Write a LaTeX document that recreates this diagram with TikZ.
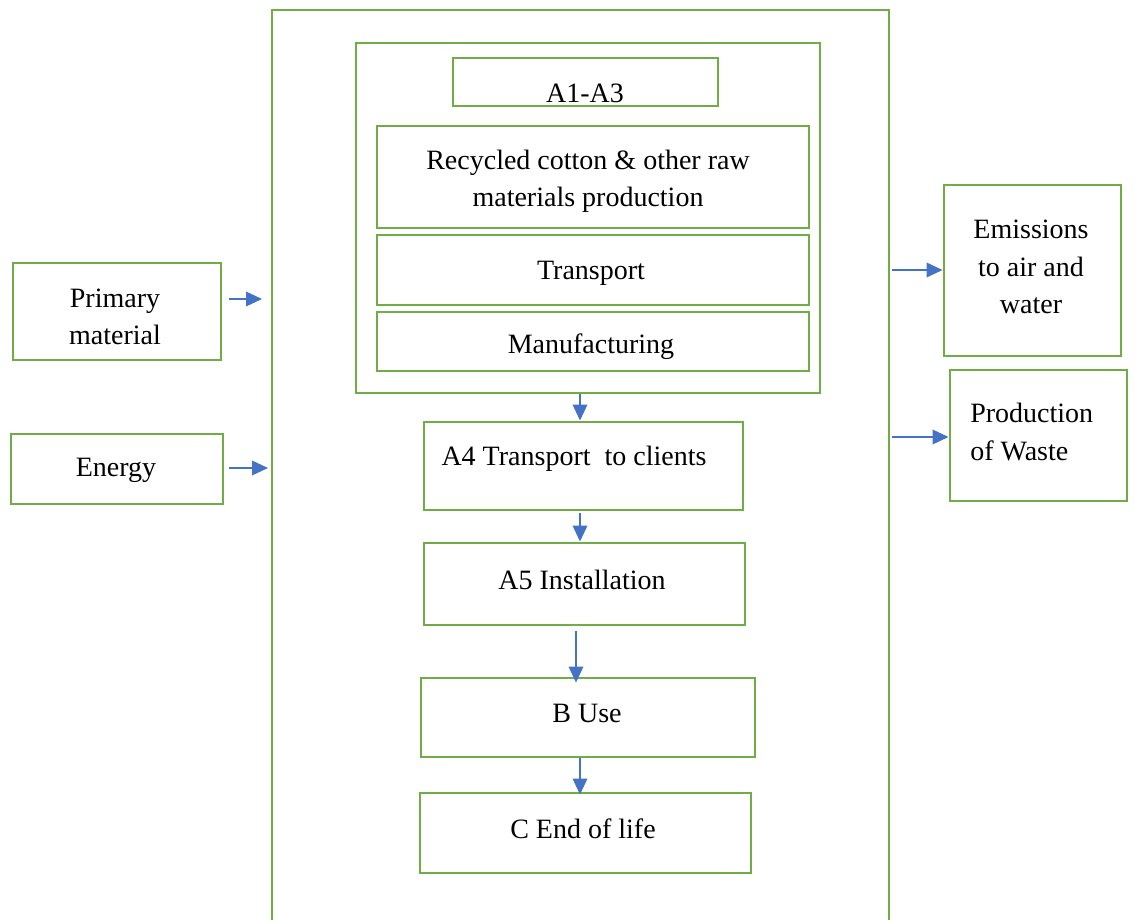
\documentclass[tikz,border=0pt]{standalone}
\usepackage{fontspec}
\setmainfont{Liberation Serif}
\usetikzlibrary{arrows.meta}
\definecolor{boxgreen}{HTML}{70AD47}
\definecolor{arrblue}{HTML}{4472C4}
\begin{document}
\begin{tikzpicture}[x=0.75pt,y=-0.75pt,
  box/.style={draw=boxgreen, line width=2.2pt, inner sep=0pt},
  txt/.style={font=\fontsize{21}{28}\selectfont, inner sep=0pt, align=center},
  flow/.style={draw=arrblue, line width=1.1pt, -{Triangle[length=12pt,width=11pt]}}]
\useasboundingbox[fill=white] (0,0) rectangle (1135,920);
% outer frame (open at the bottom)
\coordinate (otl) at (272,10);
\coordinate (otr) at (889,10);
\coordinate (obl) at (272,925);
\coordinate (obr) at (889,925);
\draw[draw=boxgreen, line width=2.2pt] (obl) -- (otl) -- (otr) -- (obr);
% A1-A3 group
\node[box, minimum width=464pt*0.75, minimum height=350pt*0.75] (grp) at (588,218) {};
\node[box, minimum width=265pt*0.75, minimum height=48pt*0.75] (a13) at (585.5,82) {};
\node[txt] (a13t) at (585,93) {A1-A3};
\node[box, minimum width=432pt*0.75, minimum height=102pt*0.75] (rec) at (593,177) {};
\node[txt] (rect) at (588,181) {Recycled cotton \& other raw\\materials production};
\node[box, minimum width=432pt*0.75, minimum height=70pt*0.75] (tra) at (593,270) {};
\node[txt] (trat) at (591,273) {Transport};
\node[box, minimum width=432pt*0.75, minimum height=59pt*0.75] (man) at (593,341.5) {};
\node[txt] (mant) at (591,347) {Manufacturing};
% lower stages
\node[box, minimum width=319pt*0.75, minimum height=88pt*0.75] (a4) at (583.5,466) {};
\node[txt] (a4t) at (574,459) {A4 Transport\ \ to clients};
\node[box, minimum width=321pt*0.75, minimum height=82pt*0.75] (a5) at (584.5,584) {};
\node[txt] (a5t) at (582,580) {A5 Installation};
\node[box, minimum width=334pt*0.75, minimum height=79pt*0.75] (bu) at (588,717.5) {};
\node[txt] (but) at (587,713) {B Use};
\node[box, minimum width=331pt*0.75, minimum height=80pt*0.75] (ce) at (585.5,833) {};
\node[txt] (cet) at (583,829) {C End of life};
% inputs
\node[box, minimum width=208pt*0.75, minimum height=97pt*0.75] (pm) at (117,311.5) {};
\node[txt] (pmt) at (115,317) {Primary\\material};
\node[box, minimum width=212pt*0.75, minimum height=70pt*0.75] (en) at (117,469) {};
\node[txt] (ent) at (116,470) {Energy};
% outputs
\node[box, minimum width=177pt*0.75, minimum height=171pt*0.75] (em) at (1032.5,270.5) {};
\node[txt] (emt) at (1031,267) {Emissions\\to air and\\water};
\node[box, minimum width=177pt*0.75, minimum height=131pt*0.75] (ws) at (1038.5,435.5) {};
\node[txt, align=left, anchor=west] (wst) at (970,432) {Production\\of Waste};
% arrow end points
\coordinate (pmin) at (262,299);
\coordinate (enin) at (268,468);
\coordinate (emout) at (892,270);
\coordinate (wsout) at (892,437);
% connectors
\draw[flow] (pm.east |- pmin) ++(7pt*0.75,0) coordinate (pms) -- (pmin);
\draw[flow] (en.east |- enin) ++(5pt*0.75,0) coordinate (ens) -- (enin);
\draw[flow] (emout) -- (em.west |- emout);
\draw[flow] (wsout) -- (ws.west |- wsout);
\draw[flow] (grp.south -| 580,0) -- (a4.north -| 580,0);
\draw[flow] ([yshift=-2pt*0.75]a4.south -| 580,0) -- (a5.north -| 580,0);
\draw[flow] ([yshift=-5pt*0.75]a5.south -| 576,0) -- ([yshift=-6pt*0.75]bu.north -| 576,0);
\draw[flow] (bu.south -| 580,0) -- ([yshift=-3pt*0.75]ce.north -| 580,0);
\end{tikzpicture}
\end{document}
